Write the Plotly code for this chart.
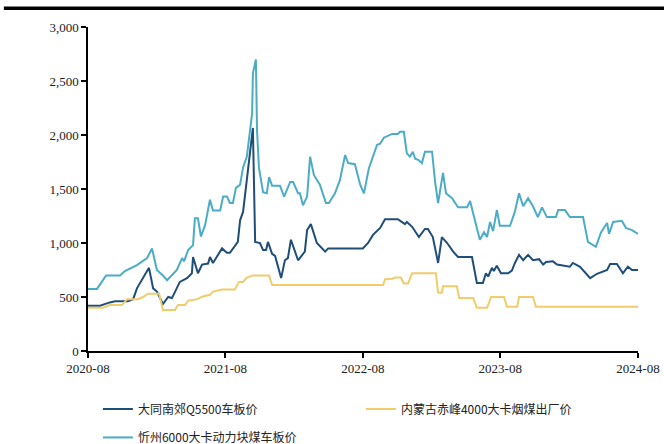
import plotly.graph_objects as go

# 大同南郊Q5500车板价
dt_dates = ["2020-08-01","2020-09-02","2020-09-28","2020-10-12","2020-11-15","2020-11-29","2020-12-09","2020-12-25",
            "2021-01-10","2021-01-21","2021-01-31","2021-02-16","2021-03-02","2021-03-12","2021-03-25","2021-04-02",
            "2021-04-21","2021-05-04","2021-05-07","2021-05-20","2021-05-31","2021-06-16","2021-06-21","2021-06-29",
            "2021-07-23","2021-08-05","2021-08-13","2021-09-03","2021-09-09","2021-09-17","2021-10-13","2021-10-19",
            "2021-11-01","2021-11-09","2021-11-17","2021-11-22","2021-12-03","2021-12-11","2021-12-27","2022-01-06",
            "2022-01-14","2022-01-22","2022-02-10","2022-02-28","2022-03-06","2022-03-16","2022-04-01","2022-04-23",
            "2022-05-01","2022-08-01","2022-08-15","2022-08-28","2022-09-16","2022-09-29","2022-11-02","2022-11-13",
            "2022-11-21","2022-11-26","2022-12-10","2022-12-28","2023-01-13","2023-01-21","2023-02-03","2023-02-17",
            "2023-02-27","2023-03-13","2023-03-29","2023-04-11","2023-05-18","2023-05-31","2023-06-16","2023-06-24",
            "2023-06-30","2023-07-10","2023-07-15","2023-07-23","2023-08-03","2023-08-22","2023-09-01","2023-09-09",
            "2023-09-20","2023-10-01","2023-10-14","2023-10-27","2023-11-12","2023-11-23","2023-12-01","2023-12-19",
            "2023-12-30","2024-02-02","2024-02-10","2024-02-29","2024-03-27","2024-04-14","2024-05-11","2024-05-19",
            "2024-06-06","2024-06-22","2024-07-05","2024-07-16","2024-08-01"]
dt_values = [420,420,450,460,460,480,580,675,
             770,580,550,435,500,490,580,640,
             675,720,870,720,800,810,870,815,
             950,910,910,1010,1210,1290,2065,1010,
             1000,935,935,1010,900,880,675,840,
             860,1030,840,920,1120,1175,1000,920,
             950,950,1000,1075,1140,1220,1220,1195,
             1175,1195,1150,1055,1130,1130,1055,815,
             1055,1000,920,870,870,630,630,720,
             690,770,740,790,720,720,745,815,
             890,840,890,840,850,800,825,830,
             800,780,815,780,675,715,750,805,
             805,720,780,750,750]

# 内蒙古赤峰4000大卡烟煤出厂价
nm_dates = ["2020-08-01","2020-09-10","2020-09-28","2020-10-30","2020-11-13","2020-12-12","2020-12-25","2021-01-07",
            "2021-02-06","2021-02-16","2021-03-20","2021-03-28","2021-04-16","2021-04-24","2021-05-18","2021-06-02",
            "2021-06-21","2021-06-29","2021-07-23","2021-08-26","2021-09-06","2021-09-17","2021-09-27","2021-10-13",
            "2021-11-25","2021-12-03","2022-09-24","2022-09-29","2022-10-18","2022-10-26","2022-11-10","2022-11-18",
            "2022-11-29","2022-12-10","2023-02-11","2023-02-17","2023-02-27","2023-03-02","2023-04-08","2023-04-14",
            "2023-05-21","2023-05-31","2023-06-27","2023-07-08","2023-08-11","2023-08-19","2023-09-15","2023-09-20",
            "2023-10-27","2023-11-04","2024-08-01"]
nm_values = [400,400,425,425,480,480,500,530,
             530,380,380,425,425,465,480,505,
             520,550,570,570,640,640,680,700,
             700,610,610,665,670,680,680,625,
             625,720,720,540,540,600,600,490,
             490,400,400,500,500,410,410,500,
             500,410,410]

# 忻州6000大卡动力块煤车板价
xz_dates = ["2020-08-01","2020-08-25","2020-09-18","2020-10-25","2020-11-07","2020-12-09","2021-01-05","2021-01-18",
            "2021-01-31","2021-02-16","2021-02-27","2021-03-25","2021-04-08","2021-04-13","2021-04-24","2021-05-07",
            "2021-05-12","2021-05-20","2021-05-28","2021-06-08","2021-06-21","2021-06-29","2021-07-18","2021-07-26",
            "2021-08-05","2021-08-13","2021-08-21","2021-08-29","2021-09-09","2021-09-17","2021-09-27","2021-10-11",
            "2021-10-13","2021-10-21","2021-10-24","2021-10-29","2021-11-09","2021-11-19","2021-11-25","2021-12-03",
            "2021-12-24","2022-01-04","2022-01-20","2022-01-28","2022-02-10","2022-02-15","2022-02-23","2022-03-06",
            "2022-03-14","2022-03-24","2022-04-09","2022-04-25","2022-05-03","2022-05-19","2022-06-01","2022-06-15",
            "2022-06-23","2022-07-11","2022-07-25","2022-08-04","2022-08-17","2022-09-08","2022-09-16","2022-09-26",
            "2022-10-18","2022-11-02","2022-11-08","2022-11-18","2022-11-26","2022-12-04","2022-12-12","2022-12-18",
            "2022-12-26","2023-01-05","2023-01-13","2023-02-01","2023-02-09","2023-02-17","2023-03-02","2023-03-10",
            "2023-03-26","2023-04-11","2023-05-05","2023-05-13","2023-05-21","2023-06-08","2023-06-19","2023-06-27",
            "2023-07-05","2023-07-13","2023-07-23","2023-07-31","2023-08-27","2023-09-09","2023-09-20","2023-10-01",
            "2023-10-14","2023-10-27","2023-11-09","2023-11-20","2023-12-03","2023-12-27","2024-01-02","2024-01-20",
            "2024-02-02","2024-03-08","2024-03-21","2024-04-11","2024-04-25","2024-05-11","2024-05-16","2024-05-27",
            "2024-06-19","2024-06-30","2024-07-16","2024-08-01"]
xz_values = [575,575,700,700,740,795,860,950,
             750,700,655,750,860,830,935,980,
             1230,1230,1060,1165,1400,1300,1300,1430,
             1430,1370,1370,1510,1540,1700,1800,2200,
             2570,2700,2045,1700,1470,1460,1610,1530,
             1530,1430,1565,1565,1460,1460,1350,1430,
             1800,1630,1540,1370,1370,1460,1580,1815,
             1740,1730,1540,1460,1690,1910,1920,1975,
             2010,2010,2030,2030,1830,1800,1845,1780,
             1770,1740,1845,1845,1565,1370,1650,1460,
             1415,1330,1330,1390,1275,1030,1100,1055,
             1195,1110,1305,1160,1160,1290,1460,1340,
             1415,1340,1240,1330,1240,1240,1305,1305,
             1240,1240,1010,965,1100,1185,1085,1195,
             1205,1140,1120,1085]

series_names = ["大同南郊Q5500车板价", "内蒙古赤峰4000大卡烟煤出厂价", "忻州6000大卡动力块煤车板价"]
series_colors = ["#1F4E79", "#F2CC6B", "#4BACC6"]

x_ticks = ["2020-08-01", "2021-08-01", "2022-08-01", "2023-08-01", "2024-08-01"]
x_tick_text = ["2020-08", "2021-08", "2022-08", "2023-08", "2024-08"]
y_ticks = [0, 500, 1000, 1500, 2000, 2500, 3000]

fig = go.Figure()
fig.add_trace(go.Scatter(x=dt_dates, y=dt_values, mode="lines", name=series_names[0],
                         line=dict(color=series_colors[0], width=2), legend="legend"))
fig.add_trace(go.Scatter(x=nm_dates, y=nm_values, mode="lines", name=series_names[1],
                         line=dict(color=series_colors[1], width=2), legend="legend"))
fig.add_trace(go.Scatter(x=xz_dates, y=xz_values, mode="lines", name=series_names[2],
                         line=dict(color=series_colors[2], width=2), legend="legend2"))

serif = "Liberation Serif, Times New Roman, serif"
legend_font = dict(family="Noto Sans CJK SC", size=12, color="#222222")

fig.update_layout(
    width=664, height=444,
    margin=dict(l=88, r=26, t=27, b=93, autoexpand=False),
    plot_bgcolor="white", paper_bgcolor="white",
    showlegend=True,
    legend=dict(orientation="h", x=0.018, y=-0.134, xanchor="left", yanchor="top",
                font=legend_font, entrywidth=218, entrywidthmode="pixels",
                bgcolor="rgba(0,0,0,0)", itemwidth=30),
    legend2=dict(orientation="h", x=0.018, y=-0.222, xanchor="left", yanchor="top",
                 font=legend_font, bgcolor="rgba(0,0,0,0)", itemwidth=30),
    xaxis=dict(type="date", range=["2020-08-01", "2024-08-01"], tickvals=x_ticks, ticktext=x_tick_text,
               showgrid=False, zeroline=False, showline=True, linecolor="black", linewidth=1.5,
               ticks="outside", ticklen=5, tickcolor="black", tickwidth=1.5,
               tickfont=dict(family=serif, size=13, color="#222222")),
    yaxis=dict(range=[0, 3000], tickvals=y_ticks, tickformat=",",
               showgrid=False, zeroline=False, showline=True, linecolor="black", linewidth=1.5,
               ticks="outside", ticklen=5, tickcolor="black", tickwidth=1.5,
               tickfont=dict(family=serif, size=13, color="#222222")),
    shapes=[dict(type="line", xref="paper", yref="paper", x0=-0.153, x1=1.05,
                 y0=1.058, y1=1.058, line=dict(color="black", width=3.5))],
)

fig.write_html("out.html", config={"displayModeBar": False},
               post_script="document.body.style.margin='0';document.body.style.overflow='hidden';")
